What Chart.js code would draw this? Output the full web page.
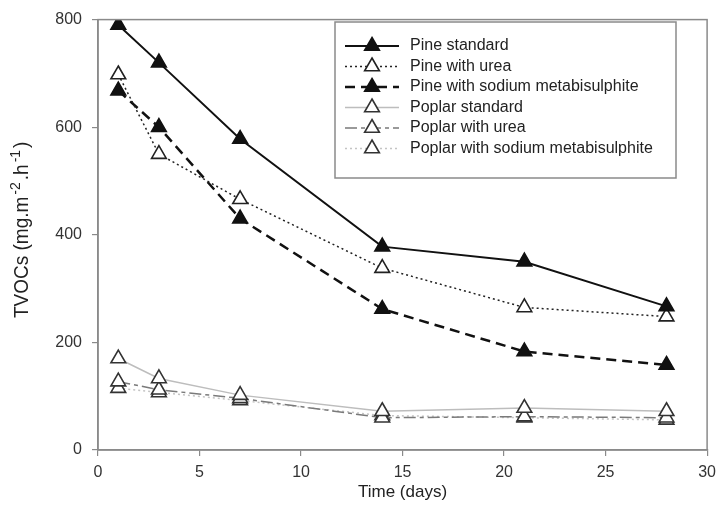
<!DOCTYPE html>
<html>
<head>
<meta charset="utf-8">
<script src="https://cdn.jsdelivr.net/npm/chart.js@4.4.1/dist/chart.umd.min.js"></script>
<style>
  html, body { margin: 0; padding: 0; background: #fff; }
  #wrap { width: 723px; height: 515px; }
</style>
</head>
<body>
<div id="wrap"><canvas id="tvocChart" width="723" height="515"></canvas></div>
<script>
// Dados
var days = [1, 3, 7, 14, 21, 28];
var pineStandard = [790, 720, 578, 378, 350, 267];
var pineUrea = [698, 550, 466, 338, 265, 248];
var pineSodium = [668, 600, 430, 262, 183, 158];
var poplarStandard = [170, 133, 102, 72, 78, 72];
var poplarUrea = [127, 112, 96, 60, 62, 60];
var poplarSodium = [115, 107, 92, 64, 60, 56];
var seriesNames = ['Pine standard', 'Pine with urea', 'Pine with sodium metabisulphite',
    'Poplar standard', 'Poplar with urea', 'Poplar with sodium metabisulphite'];
var xTicks = [0, 5, 10, 15, 20, 25, 30];
var yTicks = [0, 200, 400, 600, 800];
var yTitleParts = [
    { text: 'TVOCs (mg.m', sup: false },
    { text: '-2', sup: true },
    { text: '.h', sup: false },
    { text: '-1', sup: true },
    { text: ')', sup: false }
];

var fontFamily = '"Liberation Sans", Arial, sans-serif';
var axisGray = '#8a8a8a';

function toPoints(values) {
    return values.map(function (v, i) { return { x: days[i], y: v }; });
}

function makeDataset(label, values, lineColor, dash, width, fill, edge) {
    return {
        label: label,
        data: toPoints(values),
        borderColor: lineColor,
        borderDash: dash,
        borderWidth: width,
        pointStyle: 'triangle',
        pointRadius: 8.5,
        pointHoverRadius: 8.5,
        pointBackgroundColor: fill,
        pointBorderColor: edge,
        pointBorderWidth: 1.6,
        tension: 0,
        fill: false
    };
}

var datasets = [
    makeDataset(seriesNames[0], pineStandard, '#111', [], 2, '#111', '#111'),
    makeDataset(seriesNames[1], pineUrea, '#222', [2, 3], 1.5, '#fff', '#222'),
    makeDataset(seriesNames[2], pineSodium, '#111', [10, 6], 2.5, '#111', '#111'),
    makeDataset(seriesNames[3], poplarStandard, '#bdbdbd', [], 1.5, '#fff', '#333'),
    makeDataset(seriesNames[4], poplarUrea, '#7a7a7a', [12, 4, 4, 4], 1.5, '#fff', '#333'),
    makeDataset(seriesNames[5], poplarSodium, '#c4c4c4', [2, 3], 1.5, '#fff', '#333')
];

// Caixa em volta da area do grafico
var frameBox = {
    id: 'frameBox',
    afterDraw: function (chart) {
        var a = chart.chartArea;
        var ctx = chart.ctx;
        ctx.save();
        ctx.strokeStyle = axisGray;
        ctx.lineWidth = 1.5;
        ctx.strokeRect(a.left, a.top, a.right - a.left, a.bottom - a.top);
        ctx.restore();
    }
};

// Titulo do eixo Y com expoentes
var yTitle = {
    id: 'yTitle',
    afterDraw: function (chart) {
        var ctx = chart.ctx;
        var a = chart.chartArea;
        ctx.save();
        ctx.translate(22, (a.top + a.bottom) / 2 - 5);
        ctx.rotate(-Math.PI / 2);
        ctx.scale(1, 1.1);
        ctx.fillStyle = '#222';
        ctx.textBaseline = 'middle';
        ctx.textAlign = 'left';
        var total = 0;
        yTitleParts.forEach(function (p) {
            ctx.font = (p.sup ? '14px ' : '19px ') + fontFamily;
            p.w = ctx.measureText(p.text).width + (p.sup ? 4 : 0);
            total += p.w;
        });
        var x = -total / 2;
        yTitleParts.forEach(function (p) {
            ctx.font = (p.sup ? '14px ' : '19px ') + fontFamily;
            ctx.fillText(p.text, x + (p.sup ? 2 : 0), p.sup ? -6 : 0);
            x += p.w;
        });
        ctx.restore();
    }
};

// Legenda desenhada dentro do grafico
function triangle(ctx, x, y, r, fill, edge) {
    ctx.beginPath();
    for (var k = 0; k < 3; k++) {
        var rad = k * 2 * Math.PI / 3;
        var px = x + Math.sin(rad) * r;
        var py = y - Math.cos(rad) * r;
        if (k === 0) ctx.moveTo(px, py); else ctx.lineTo(px, py);
    }
    ctx.closePath();
    ctx.fillStyle = fill;
    ctx.fill();
    ctx.strokeStyle = edge;
    ctx.lineWidth = 1.6;
    ctx.stroke();
}

var boxLegend = {
    id: 'boxLegend',
    afterDraw: function (chart) {
        var ctx = chart.ctx;
        ctx.save();
        ctx.fillStyle = '#fff';
        ctx.fillRect(335, 22, 341, 156);
        ctx.strokeStyle = axisGray;
        ctx.lineWidth = 1.5;
        ctx.strokeRect(335, 22, 341, 156);
        chart.data.datasets.forEach(function (ds, i) {
            var y = 46 + i * 20.5;
            ctx.beginPath();
            ctx.setLineDash(ds.borderDash);
            ctx.strokeStyle = ds.borderColor;
            ctx.lineWidth = ds.borderWidth;
            ctx.moveTo(345, y);
            ctx.lineTo(399, y);
            ctx.stroke();
            ctx.setLineDash([]);
            triangle(ctx, 372, y, 8.5, ds.pointBackgroundColor, ds.pointBorderColor);
            ctx.fillStyle = '#222';
            ctx.font = '16px ' + fontFamily;
            ctx.textBaseline = 'middle';
            ctx.textAlign = 'left';
            ctx.fillText(ds.label, 410, y);
        });
        ctx.restore();
    }
};

var ctx = document.getElementById('tvocChart').getContext('2d');
var tvocChart = new Chart(ctx, {
    type: 'line',
    data: { datasets: datasets },
    plugins: [frameBox, yTitle, boxLegend],
    options: {
        responsive: false,
        animation: false,
        layout: { padding: { left: 0, right: 8, top: 17, bottom: 0 } },
        plugins: {
            legend: { display: false },
            tooltip: { enabled: false }
        },
        scales: {
            x: {
                type: 'linear',
                min: 0,
                max: 30,
                afterBuildTicks: function (axis) {
                    axis.ticks = xTicks.map(function (v) { return { value: v }; });
                },
                afterFit: function (axis) { axis.height = 65; },
                grid: { drawOnChartArea: false, drawTicks: true, tickLength: 6, color: axisGray, lineWidth: 1.2 },
                border: { display: true, color: axisGray, width: 1.5 },
                ticks: { color: '#333', padding: 7, maxRotation: 0, font: { family: fontFamily, size: 16 } },
                title: {
                    display: true,
                    text: 'Time (days)',
                    color: '#222',
                    padding: { top: 0, bottom: 12 },
                    font: { family: fontFamily, size: 17 }
                }
            },
            y: {
                type: 'linear',
                min: 0,
                max: 800,
                afterBuildTicks: function (axis) {
                    axis.ticks = yTicks.map(function (v) { return { value: v }; });
                },
                afterFit: function (axis) { axis.width = 98; },
                grid: { drawOnChartArea: false, drawTicks: true, tickLength: 6, color: axisGray, lineWidth: 1.2 },
                border: { display: true, color: axisGray, width: 1.5 },
                ticks: { color: '#333', padding: 10, font: { family: fontFamily, size: 16 } }
            }
        }
    }
});
</script>
</body>
</html>
